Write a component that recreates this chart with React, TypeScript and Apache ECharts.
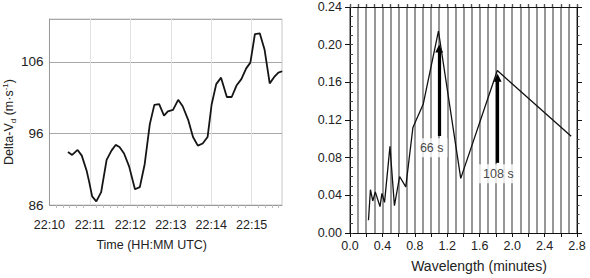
import React, { useEffect, useRef } from "react";
import * as echarts from "echarts";

// Left panel: time (minutes after 22:10 UTC) vs Delta-Vd (m·s-1)
const timeMinutes = [
  0.458, 0.562, 0.697, 0.8, 0.92, 0.984, 1.056, 1.159, 1.279, 1.414, 1.534, 1.637,
  1.733, 1.845, 1.97, 2.115, 2.235, 2.355, 2.482, 2.594, 2.713, 2.833, 2.928, 3.056,
  3.183, 3.295, 3.43, 3.55, 3.669, 3.789, 3.91, 4.01, 4.124, 4.243, 4.386, 4.506,
  4.625, 4.745, 4.865, 4.968, 5.08, 5.2, 5.32, 5.446, 5.558, 5.66, 5.757,
];
const deltaVd = [
  93.4, 93.0, 93.7, 92.9, 90.8, 89.2, 87.2, 86.5, 87.8, 92.3, 93.6, 94.4,
  94.1, 93.2, 91.4, 88.2, 88.5, 91.7, 97.3, 100.0, 100.1, 98.5, 99.1, 99.3,
  100.7, 99.8, 97.9, 95.5, 94.3, 94.6, 95.5, 100.05, 102.9, 103.8, 101.1, 101.1,
  102.7, 103.6, 105.1, 105.9, 109.9, 110.0, 107.7, 103.0, 103.9, 104.5, 104.7,
];
const timeTicks = [0, 1, 2, 3, 4, 5];
const timeTickLabels = ["22:10", "22:11", "22:12", "22:13", "22:14", "22:15"];

// Right panel: wavelength (minutes) vs spectral power
const wavelength = [
  0.228, 0.252, 0.281, 0.312, 0.37, 0.394, 0.426, 0.493, 0.548, 0.612, 0.688,
  0.776, 0.904, 1.091, 1.366, 1.817, 2.728,
];
const power = [
  0.0135, 0.046, 0.034, 0.0437, 0.028, 0.042, 0.0325, 0.092, 0.029, 0.06, 0.049,
  0.112, 0.137, 0.2145, 0.058, 0.1725, 0.1028,
];

// Annotated peaks
const arrowX = [1.1, 1.82];
const arrowFrom = [0.103, 0.0745];
const arrowTo = [0.196, 0.165];
const arrowLabels = ["66 s", "108 s"];
const arrowLabelX = [1.008, 1.83];
const arrowLabelY = [0.0905, 0.063];

const FONT = "'Liberation Sans', Arial, Helvetica, sans-serif";

export default function App() {
  const ref = useRef<HTMLDivElement>(null);
  useEffect(() => {
    if (!ref.current) return;
    const chart = echarts.init(ref.current, undefined, { renderer: "svg" });
    const option: any = {
      animation: false,
      backgroundColor: "#fff",
      textStyle: { fontFamily: FONT },
      grid: [
        { left: 42, top: 19, width: 240, height: 186, show: true, borderColor: "#c8c8c8", borderWidth: 1, backgroundColor: "transparent" },
        { left: 350, top: 7, width: 227, height: 226 },
      ],
      xAxis: [
        {
          gridIndex: 0,
          type: "value",
          min: 0,
          max: 5.75,
          interval: 1,
          axisLine: { onZero: false, lineStyle: { color: "#999", width: 1 } },
          axisTick: { show: false },
          minorTick: { show: true, splitNumber: 6, length: 3, lineStyle: { color: "#bbb" } },
          axisLabel: {
            fontSize: 12.5,
            color: "#222",
            margin: 13,
            showMaxLabel: false,
            formatter: (v: number) => {
              const i = timeTicks.indexOf(Math.round(v * 100) / 100);
              return i >= 0 ? timeTickLabels[i] : "";
            },
          },
          splitLine: { show: true, lineStyle: { color: "#e2e2e2", width: 1 } },
          name: "Time (HH:MM UTC)",
          nameLocation: "middle",
          nameGap: 33,
          nameTextStyle: { fontSize: 12.5, color: "#222", padding: [0, 28, 0, 0] },
        },
        {
          gridIndex: 1,
          type: "value",
          min: 0,
          max: 2.8,
          interval: 0.2,
          axisLine: { onZero: false, lineStyle: { color: "#111", width: 1 } },
          axisTick: { show: true, length: 4, lineStyle: { color: "#111" } },
          minorTick: { show: false, splitNumber: 2 },
          axisLabel: {
            fontSize: 12.5,
            color: "#222",
            margin: 6,
            formatter: (v: number) => (Math.round(v * 10) % 4 === 0 ? v.toFixed(1) : ""),
          },
          splitLine: { show: true, lineStyle: { color: "#858585", width: 1.7 } },
          minorSplitLine: { show: true, lineStyle: { color: "#858585", width: 1.7 } },
          name: "Wavelength (minutes)",
          nameLocation: "middle",
          nameGap: 26,
          nameTextStyle: { fontSize: 14, color: "#222", padding: [0, 0, 0, 31] },
        },
        {
          gridIndex: 1,
          type: "value",
          position: "top",
          min: 0,
          max: 2.8,
          interval: 0.1,
          axisLine: { onZero: false, lineStyle: { color: "#111", width: 1 } },
          axisTick: { show: true, length: 3, lineStyle: { color: "#555", width: 1.4 } },
          axisLabel: { show: false },
          splitLine: { show: false },
        },
      ],
      yAxis: [
        {
          gridIndex: 0,
          type: "value",
          min: 86,
          max: 112,
          interval: 10,
          axisLine: { show: true, onZero: false, lineStyle: { color: "#999", width: 1 } },
          axisTick: { show: false },
          axisLabel: { fontSize: 13.5, color: "#222", margin: 6, showMaxLabel: false },
          splitLine: { show: true, lineStyle: { color: "#a8a8a8", width: 1 } },
          name: "Delta-V{sub|d} (m·s{sup|-1})",
          nameLocation: "middle",
          nameGap: 28,
          nameTextStyle: {
            fontSize: 12.5,
            color: "#222",
            lineHeight: 16,
            padding: [0, 20, 0, 0],
            rich: {
              sub: { fontSize: 8, lineHeight: 8, verticalAlign: "bottom", color: "#222" },
              sup: { fontSize: 8, lineHeight: 8, verticalAlign: "top", color: "#222" },
            },
          },
        },
        {
          gridIndex: 1,
          type: "value",
          min: 0,
          max: 0.24,
          interval: 0.04,
          axisLine: { show: true, onZero: false, lineStyle: { color: "#111", width: 1 } },
          axisTick: { show: true, length: 5, lineStyle: { color: "#111" } },
          axisLabel: { fontSize: 12.5, color: "#222", margin: 8, formatter: (v: number) => v.toFixed(2) },
          splitLine: { show: false },
        },
        {
          gridIndex: 1,
          type: "value",
          position: "left",
          min: 0,
          max: 0.24,
          interval: 0.01,
          axisLine: { show: false, onZero: false },
          axisTick: { show: true, inside: true, length: 3, lineStyle: { color: "#444" } },
          axisLabel: { show: false },
          splitLine: { show: false },
        },
        {
          gridIndex: 1,
          type: "value",
          position: "right",
          min: 0,
          max: 0.24,
          interval: 0.04,
          axisLine: { show: true, onZero: false, lineStyle: { color: "#111", width: 1 } },
          axisTick: { show: true, length: 5, lineStyle: { color: "#111" } },
          minorTick: { show: true, splitNumber: 4, length: 2.5, lineStyle: { color: "#444" } },
          axisLabel: { show: false },
          splitLine: { show: false },
        },
      ],
      series: [
        {
          type: "line",
          xAxisIndex: 0,
          yAxisIndex: 0,
          data: timeMinutes.map((t, i) => [t, deltaVd[i]]),
          showSymbol: false,
          lineStyle: { color: "#151515", width: 1.8 },
          z: 5,
        },
        {
          type: "line",
          xAxisIndex: 1,
          yAxisIndex: 1,
          data: wavelength.map((w, i) => [w, power[i]]),
          showSymbol: false,
          lineStyle: { color: "#111", width: 1.3 },
          z: 5,
          markLine: {
            silent: true,
            symbol: ["none", "triangle"],
            symbolSize: [8, 8],
            label: { show: false },
            lineStyle: { color: "#000", width: 3.2, type: "solid" },
            data: arrowX.map((x, i) => [
              { coord: [x, arrowFrom[i]] },
              { coord: [x, arrowTo[i]] },
            ]),
          },
        },
        {
          type: "scatter",
          xAxisIndex: 1,
          yAxisIndex: 1,
          symbolSize: 1,
          itemStyle: { color: "rgba(0,0,0,0)" },
          data: arrowLabelX.map((x, i) => [x, arrowLabelY[i]]),
          label: {
            show: true,
            position: "inside",
            formatter: (p: any) => arrowLabels[p.dataIndex],
            backgroundColor: "#fff",
            padding: [3, 4, 3, 4],
            color: "#111",
            fontSize: 12.5,
          },
          z: 6,
        },
      ],
    };
    chart.setOption(option);
    return () => chart.dispose();
  }, []);
  return (
    <div
      ref={ref}
      style={{ position: "fixed", left: 0, top: 0, width: 590, height: 278, background: "#fff" }}
    />
  );
}
